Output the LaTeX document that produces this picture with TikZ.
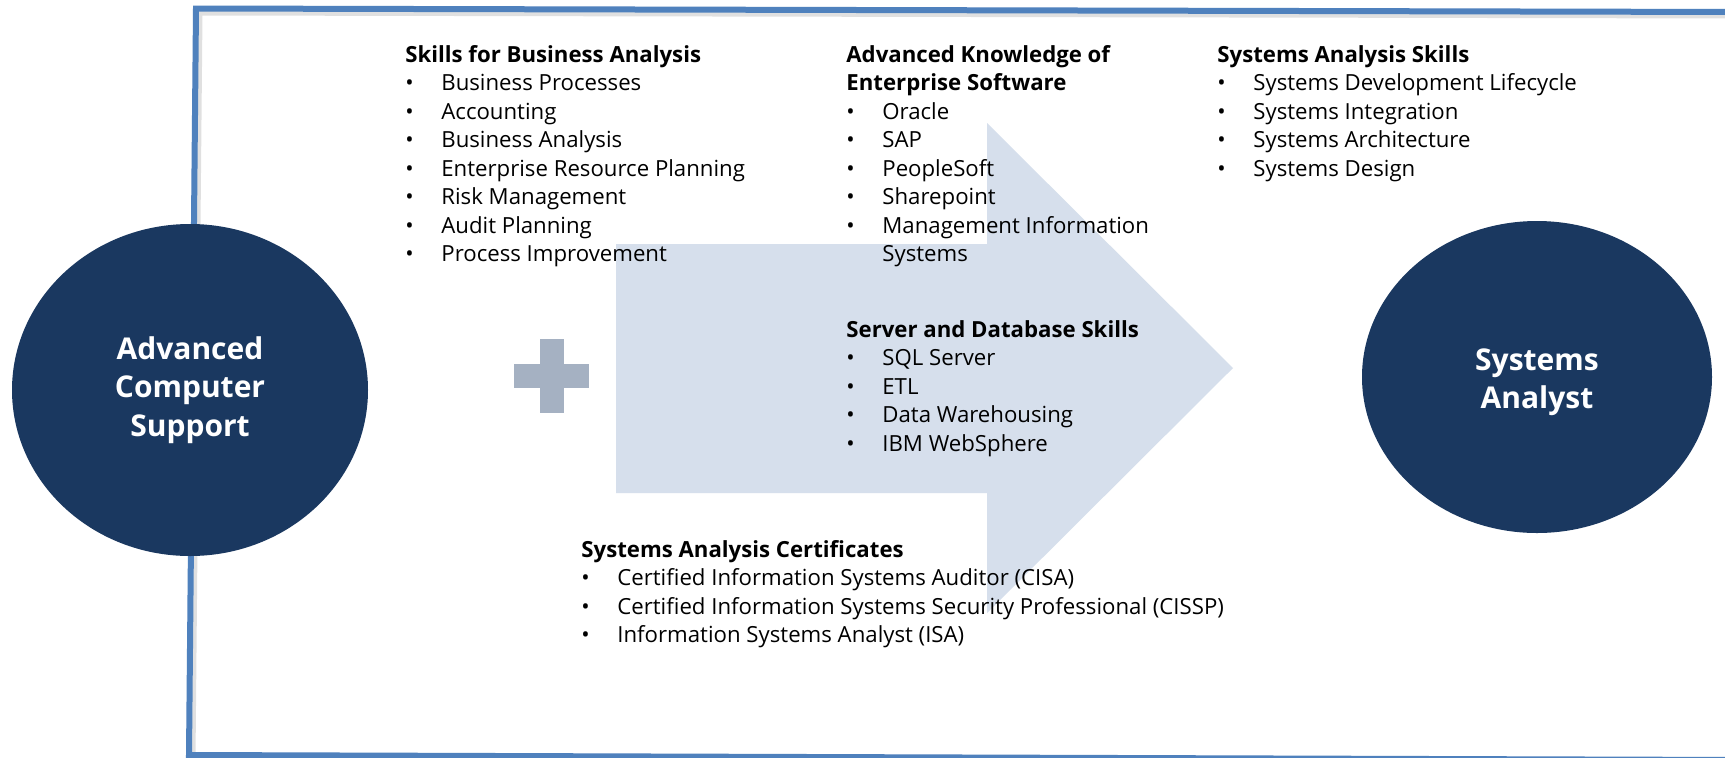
\documentclass[tikz,border=0pt]{standalone}
\usepackage{fontspec}
\setmainfont{Open Sans}
\usetikzlibrary{shapes.geometric}
\definecolor{navy}{RGB}{26,56,96}
\definecolor{framec}{RGB}{79,129,189}
\definecolor{arrowc}{RGB}{214,223,236}
\definecolor{plusc}{RGB}{165,177,194}
\begin{document}
\begin{tikzpicture}[x=0.5pt,y=-0.5pt,
  hub/.style={ellipse, fill=navy, inner sep=0pt},
  hubtext/.style={text=white, font=\fontsize{15}{19.25}\selectfont\bfseries, align=center, inner sep=0pt},
  block/.style={anchor=base west, inner sep=0pt, font=\fontsize{11.1}{14.25}\selectfont}]
\useasboundingbox (0,0) rectangle (1725,757);
\fill[white] (0,0) rectangle (1725,757);
% frame with faint shadow
\draw[black, opacity=0.12, line width=2.5pt] (200,13) -- (1750,16) -- (1750,764) -- (193,759) -- cycle;
\draw[framec, line width=3pt, line join=miter] (196,8.5) -- (1745,12) -- (1745,760) -- (189,755) -- cycle;
% big arrow
\fill[arrowc] (616,244) -- (987,244) -- (987,123) -- (1233,368) -- (987,613) -- (987,493) -- (616,493) -- cycle;
% plus sign
\fill[plusc] (540,339) rectangle (564,413);
\fill[plusc] (514,364) rectangle (589,388);
% hubs
\node[hub, minimum width=178pt, minimum height=166pt] (acs) at (190,390) {};
\node[hubtext] (acstext) at (acs.center) {Advanced\\Computer\\Support};
\node[hub, minimum width=175pt, minimum height=156pt] (sa) at (1537,377) {};
\node[hubtext] (satext) at ([yshift=-2.5pt]sa.center) {Systems\\Analyst};
% text blocks
\node[block] (bus) at (405,62) {\begin{tabular}[t]{@{}p{18pt}@{}l@{}}
\multicolumn{2}{@{}l@{}}{\bfseries Skills for Business Analysis}\\
•& Business Processes\\
•& Accounting\\
•& Business Analysis\\
•& Enterprise Resource Planning\\
•& Risk Management\\
•& Audit Planning\\
•& Process Improvement
\end{tabular}};
\node[block] (ent) at (846,62) {\begin{tabular}[t]{@{}p{18pt}@{}l@{}}
\multicolumn{2}{@{}l@{}}{\bfseries Advanced Knowledge of}\\
\multicolumn{2}{@{}l@{}}{\bfseries Enterprise Software}\\
•& Oracle\\
•& SAP\\
•& PeopleSoft\\
•& Sharepoint\\
•& Management Information\\
 & Systems
\end{tabular}};
\node[block] (sys) at (1217,62) {\begin{tabular}[t]{@{}p{18pt}@{}l@{}}
\multicolumn{2}{@{}l@{}}{\bfseries Systems Analysis Skills}\\
•& Systems Development Lifecycle\\
•& Systems Integration\\
•& Systems Architecture\\
•& Systems Design
\end{tabular}};
\node[block] (db) at (846,337) {\begin{tabular}[t]{@{}p{18pt}@{}l@{}}
\multicolumn{2}{@{}l@{}}{\bfseries Server and Database Skills}\\
•& SQL Server\\
•& ETL\\
•& Data Warehousing\\
•& IBM WebSphere
\end{tabular}};
\node[block] (cert) at (581,557) {\begin{tabular}[t]{@{}p{18pt}@{}l@{}}
\multicolumn{2}{@{}l@{}}{\bfseries Systems Analysis Certificates}\\
•& Certified Information Systems Auditor (CISA)\\
•& Certified Information Systems Security Professional (CISSP)\\
•& Information Systems Analyst (ISA)
\end{tabular}};
\end{tikzpicture}
\end{document}
